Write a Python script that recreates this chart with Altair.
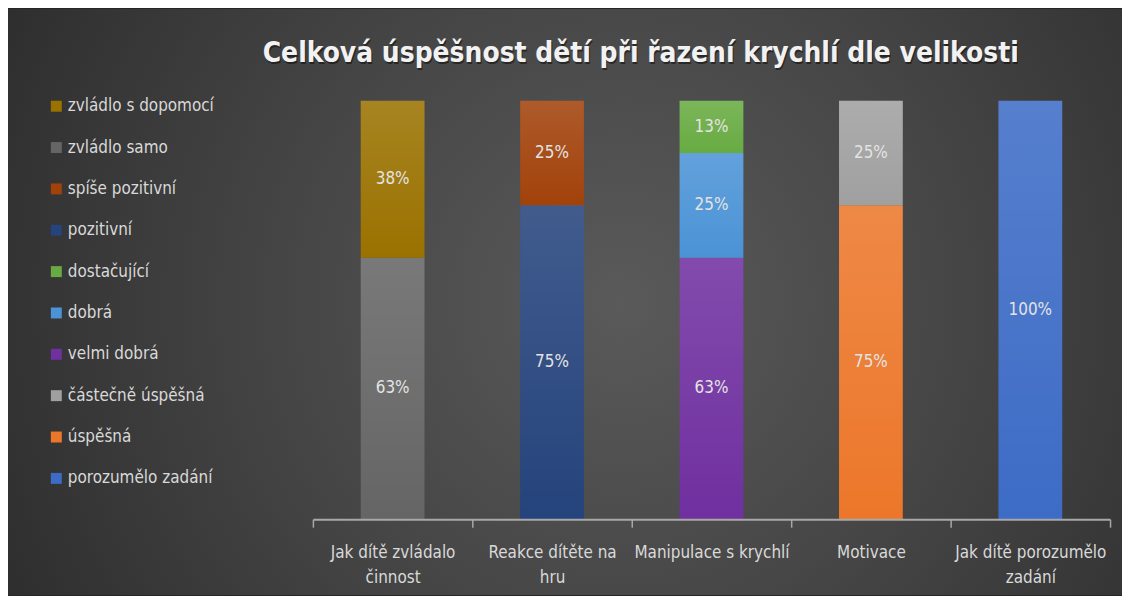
import altair as alt
import pandas as pd

# ---------------- data ----------------
categories = [
    "Jak dítě zvládalo činnost",
    "Reakce dítěte na hru",
    "Manipulace s krychlí",
    "Motivace",
    "Jak dítě porozumělo zadání",
]
category_lines = [
    ["Jak dítě zvládalo", "činnost"],
    ["Reakce dítěte na", "hru"],
    ["Manipulace s krychlí"],
    ["Motivace"],
    ["Jak dítě porozumělo", "zadání"],
]
# series in stacking order (bottom -> top)
series_names = [
    "porozumělo zadání", "úspěšná", "částečně úspěšná", "velmi dobrá", "dobrá",
    "dostačující", "pozitivní", "spíše pozitivní", "zvládlo samo", "zvládlo s dopomocí",
]
series_category = [
    "Jak dítě porozumělo zadání", "Motivace", "Motivace", "Manipulace s krychlí",
    "Manipulace s krychlí", "Manipulace s krychlí", "Reakce dítěte na hru",
    "Reakce dítěte na hru", "Jak dítě zvládalo činnost", "Jak dítě zvládalo činnost",
]
series_values = [1.0, 0.75, 0.25, 0.625, 0.25, 0.125, 0.75, 0.25, 0.625, 0.375]
series_colors = [
    "#3d6cc6", "#ec772a", "#a0a0a0", "#7030a0", "#4b93d6",
    "#68ab42", "#25437c", "#a2420b", "#656565", "#9a7200",
]
legend_order = list(reversed(series_names))
legend_colors = list(reversed(series_colors))

title_text = "Celková úspěšnost dětí při řazení krychlí dle velikosti"

df = pd.DataFrame({
    "category": series_category,
    "series": series_names,
    "value": series_values,
    "order": list(range(len(series_names))),
})

# ---------------- layout ----------------
W, H = 800, 420
PAD = {"left": 306, "top": 92, "right": 12, "bottom": 76}
NARROW = "Liberation Sans Narrow, DejaVu Sans Condensed, sans-serif"

label_expr = ""
for cat, lines in zip(categories, category_lines):
    arr = "[" + ",".join("'" + l + "'" for l in lines) + "]"
    label_expr += f"datum.label == '{cat}' ? {arr} : "
label_expr += "datum.label"

# background
bg = alt.Chart(pd.DataFrame({"k": [0]})).mark_rect(
    fill=alt.RadialGradient(
        gradient="radial",
        stops=[alt.GradientStop(color="#5a5a5a", offset=0),
               alt.GradientStop(color="#444444", offset=0.45),
               alt.GradientStop(color="#262626", offset=1)],
        x1=0.55, y1=0.5, r1=0, x2=0.55, y2=0.5, r2=0.72,
    )
).encode(
    x=alt.value(-PAD["left"]), x2=alt.value(W + PAD["right"]),
    y=alt.value(-PAD["top"]), y2=alt.value(H + PAD["bottom"]),
)

base = alt.Chart(df).transform_stack(
    stack="value", as_=["y0", "y1"], groupby=["category"],
    sort=[alt.SortField("order", order="ascending")],
).transform_calculate(mid="(datum.y0 + datum.y1) / 2")

xscale = alt.Scale(paddingInner=0, paddingOuter=0)
xenc = alt.X(
    "category:N", sort=categories, scale=xscale,
    axis=alt.Axis(
        title=None, labelAngle=0, labelExpr=label_expr,
        labelFont=NARROW, labelFontSize=17, labelLineHeight=26,
        labelColor="#d9d9d9", labelPadding=17,
        domainColor="#a8a8a8", domainWidth=2,
        tickColor="#a8a8a8", tickWidth=1.5, tickSize=8, tickBand="extent",
        grid=False, zindex=2,
    ),
)
yscale = alt.Scale(domain=[0, 1])

bars = base.mark_bar(width=alt.RelativeBandSize(0.4)).encode(
    x=xenc,
    y=alt.Y("y0:Q", scale=yscale, axis=None),
    y2="y1:Q",
    color=alt.Color(
        "series:N",
        scale=alt.Scale(domain=legend_order, range=legend_colors),
        legend=alt.Legend(
            title=None, orient="none", legendX=-266, legendY=-3,
            symbolType="square", symbolSize=121, symbolStrokeWidth=0,
            labelFont=NARROW, labelFontSize=17, labelColor="#d9d9d9",
            labelOffset=3, rowPadding=23.5, padding=0, labelLimit=300,
        ),
    ),
)

shine = base.mark_bar(
    width=alt.RelativeBandSize(0.4),
    fill=alt.LinearGradient(
        gradient="linear",
        stops=[alt.GradientStop(color="rgba(255,255,255,0.13)", offset=0),
               alt.GradientStop(color="rgba(255,255,255,0.0)", offset=1)],
        x1=0, x2=0, y1=0, y2=1,
    ),
).encode(
    x=alt.X("category:N", sort=categories, scale=xscale),
    y=alt.Y("y0:Q", scale=yscale),
    y2="y1:Q",
)

labels = base.mark_text(
    font=NARROW, fontSize=17, color="#e3e3e3", baseline="middle", align="center"
).encode(
    x=alt.X("category:N", sort=categories, scale=xscale),
    y=alt.Y("mid:Q", scale=yscale),
    text=alt.Text("value:Q", format=".0%"),
)

title_df = pd.DataFrame({"t": [title_text]})
title_shadow = alt.Chart(title_df).mark_text(
    font=NARROW, fontSize=28, fontWeight="bold", color="#000000", opacity=0.45,
    align="center", baseline="middle",
).encode(x=alt.value(330), y=alt.value(-45), text="t:N")
title = alt.Chart(title_df).mark_text(
    font=NARROW, fontSize=28, fontWeight="bold", color="#f2f2f2",
    align="center", baseline="middle",
).encode(x=alt.value(329), y=alt.value(-47), text="t:N")

chart = alt.layer(bg, bars, shine, labels, title_shadow, title).properties(
    width=W, height=H,
    autosize=alt.AutoSizeParams(type="none"),
    padding=PAD,
    background="#262626",
).configure_view(stroke=None)

chart.save("out.html", embed_options={"renderer": "svg", "actions": False})
